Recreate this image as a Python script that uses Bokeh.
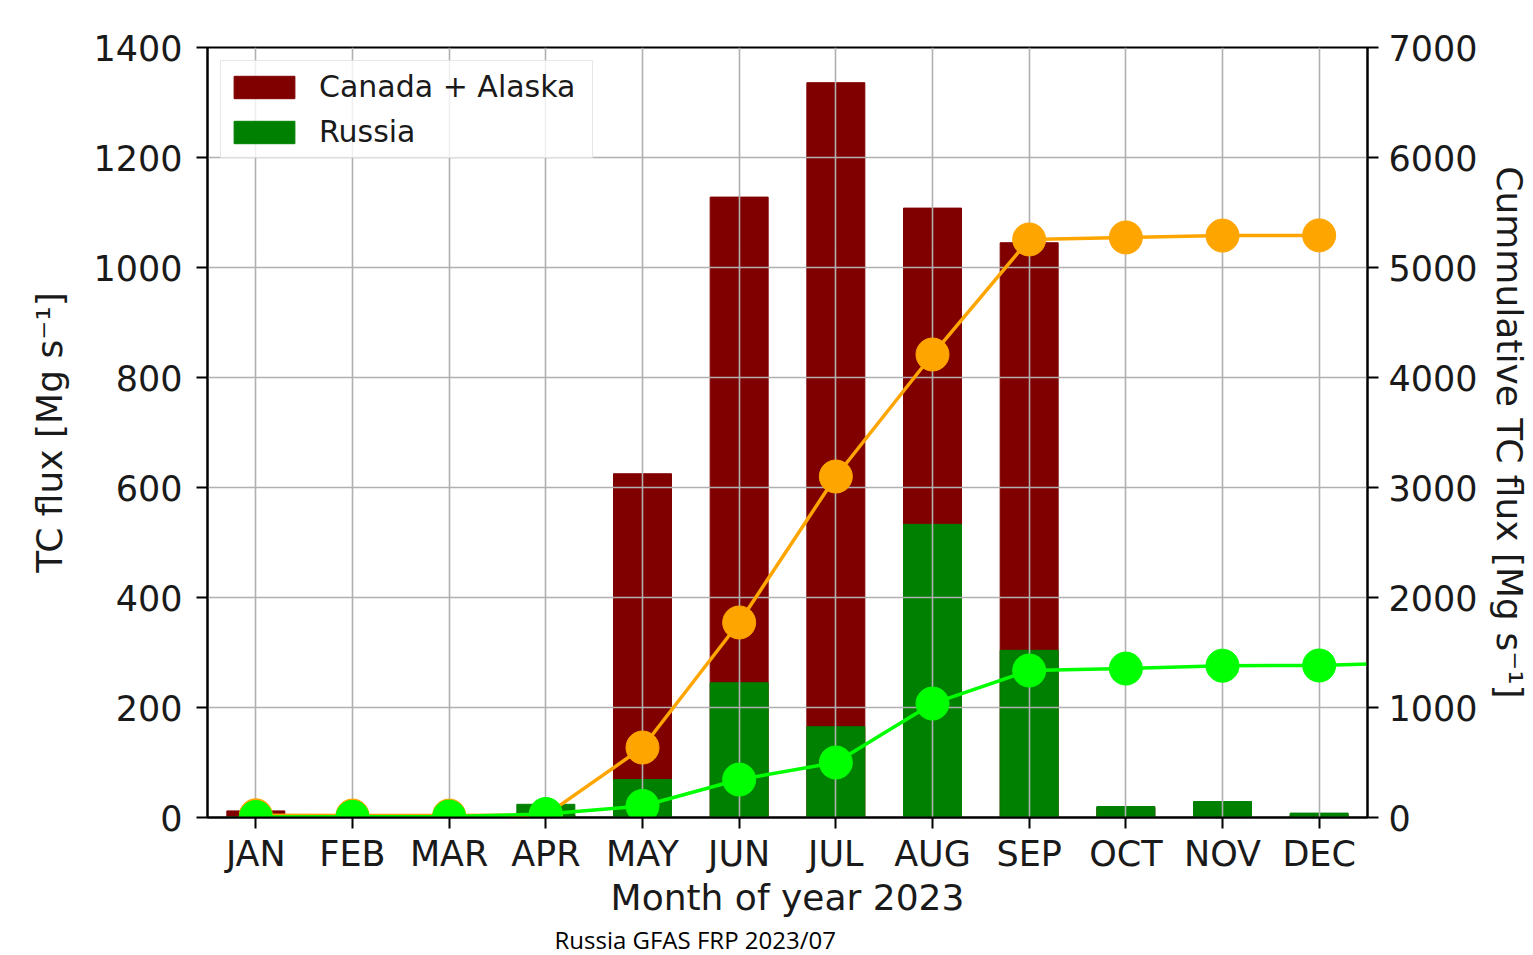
from bokeh.plotting import figure
from bokeh.models import Range1d, LinearAxis, FixedTicker, Legend, LegendItem, Title
from bokeh.embed import file_html
from bokeh.resources import INLINE

months = ["JAN", "FEB", "MAR", "APR", "MAY", "JUN", "JUL", "AUG", "SEP", "OCT", "NOV", "DEC"]
canada = [12, 0, 0, 4, 625, 1128, 1336, 1108, 1045, 18, 17, 5]
russia = [1, 2, 2, 24, 69, 245, 165, 533, 304, 20, 29, 8]
canada_cum = [20, 18, 18, 22, 636, 1773, 3100, 4209, 5255, 5273, 5290, 5292]
russia_cum = [4, 6, 8, 32, 105, 345, 500, 1036, 1336, 1354, 1380, 1382, 1410]

FONT = "DejaVu Sans"
x = list(range(len(months)))
x_ext = list(range(len(russia_cum)))

p = figure(width=1533, height=955, x_range=Range1d(-0.5, 11.5), y_range=Range1d(0, 1400),
           output_backend="svg", toolbar_location=None,
           min_border_left=207, min_border_right=166, min_border_top=47, min_border_bottom=138)
p.extra_y_ranges = {"cum": Range1d(0, 7000)}
p.outline_line_color = "black"
p.outline_line_width = 2
p.outline_line_alpha = 1

r_can = p.vbar(x=x, top=canada, width=0.6, fill_color="#800000", line_color="#800000", level="image")
r_rus = p.vbar(x=x, top=russia, width=0.6, fill_color="#008000", line_color="#008000", level="image")

p.line(x, canada_cum, line_color="orange", line_width=3.5, y_range_name="cum")
p.scatter(x, canada_cum, size=33, fill_color="orange", line_color="orange", y_range_name="cum")
p.line(x_ext, russia_cum, line_color="#00ff00", line_width=3.5, y_range_name="cum")
p.scatter(x, russia_cum[:12], size=33, fill_color="#00ff00", line_color="#00ff00", y_range_name="cum")

def style_axis(ax):
    ax.major_label_text_font = FONT
    ax.major_label_text_font_size = "35px"
    ax.major_label_text_color = "#1a1a1a"
    ax.axis_label_text_font = FONT
    ax.axis_label_text_font_size = "36px"
    ax.axis_label_text_font_style = "normal"
    ax.axis_label_text_color = "#1a1a1a"
    ax.major_tick_out = 11
    ax.major_tick_in = 0
    ax.major_tick_line_width = 2
    ax.major_tick_line_color = "black"
    ax.minor_tick_line_color = None
    ax.axis_line_width = 2
    ax.axis_line_color = "black"

xa = p.xaxis[0]
xa.ticker = FixedTicker(ticks=x)
xa.major_label_overrides = {i: m for i, m in enumerate(months)}
xa.axis_label = "Month of year 2023"
style_axis(xa)
xa.major_label_standoff = 5
xa.axis_label_standoff = 0

ya = p.yaxis[0]
ya.ticker = FixedTicker(ticks=list(range(0, 1401, 200)))
ya.axis_label = "TC flux [Mg s⁻¹]"
style_axis(ya)
ya.major_label_standoff = 14
ya.axis_label_standoff = 20

ra = LinearAxis(y_range_name="cum", ticker=FixedTicker(ticks=list(range(0, 7001, 1000))),
                axis_label="Cummulative TC flux [Mg s⁻¹]")
style_axis(ra)
ra.major_label_standoff = 10
ra.axis_label_standoff = 8
p.add_layout(ra, "right")

for g in (p.xgrid[0], p.ygrid[0]):
    g.grid_line_color = "#b0b0b0"
    g.grid_line_width = 1.6
p.xgrid[0].ticker = FixedTicker(ticks=x)
p.ygrid[0].ticker = FixedTicker(ticks=list(range(0, 1401, 200)))

legend = Legend(items=[LegendItem(label="Canada + Alaska", renderers=[r_can]),
                       LegendItem(label="Russia", renderers=[r_rus])],
                location="top_left", margin=13, padding=5, spacing=4,
                glyph_width=76, glyph_height=28, label_height=41, label_width=268, label_standoff=17,
                label_text_font=FONT, label_text_font_size="30px", label_text_color="#1a1a1a",
                border_line_color="#d0d0d0", border_line_width=1.5,
                background_fill_color="white", background_fill_alpha=0.8)
p.add_layout(legend, "center")

cap = Title(text="Russia GFAS FRP 2023/07", align="left", offset=347,
            text_font="Open Sans", text_font_size="24px", text_font_style="normal",
            text_color="black", standoff=0)
p.add_layout(cap, "below")

open("out.html", "w").write(file_html(p, INLINE))
